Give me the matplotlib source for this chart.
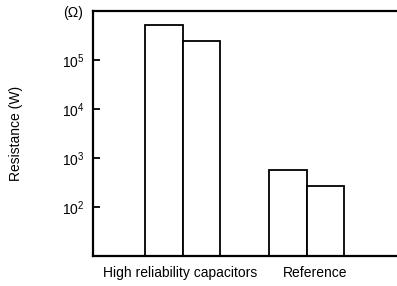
import matplotlib.pyplot as plt
import numpy as np

plt.rcParams['font.family'] = ['Liberation Sans', 'DejaVu Sans']
plt.rcParams['mathtext.fontset'] = 'custom'
plt.rcParams['mathtext.rm'] = 'Liberation Sans'

groups = ['High reliability capacitors', 'Reference']
bar_a = [5.2e5, 5.7e2]
bar_b = [2.45e5, 2.55e2]
y_ticks = [1e2, 1e3, 1e4, 1e5]
y_labels = ['$\\mathrm{10^2}$', '$\\mathrm{10^3}$', '$\\mathrm{10^4}$', '$\\mathrm{10^5}$']

fig = plt.figure(figsize=(3.97, 2.86), dpi=100)
ax = fig.add_axes([0.234, 0.105, 0.763, 0.857])

x = np.arange(len(groups))
w = 0.302
ax.bar(x - w / 2, bar_a, width=w, bottom=10, color='white', edgecolor='black', linewidth=1.3)
ax.bar(x + w / 2, bar_b, width=w, bottom=10, color='white', edgecolor='black', linewidth=1.3)

ax.set_yscale('log')
ax.set_ylim(10, 1e6)
ax.set_xlim(-0.726, 1.718)
ax.set_yticks(y_ticks)
ax.set_yticklabels(y_labels)
ax.minorticks_off()
ax.tick_params(axis='y', direction='in', length=5, width=1.3, labelsize=10, pad=6)
ax.set_xticks(x + np.array([-0.024, 0.065]))
ax.set_xticklabels(groups)
ax.tick_params(axis='x', length=0, labelsize=10, pad=7)

ax.spines['right'].set_visible(False)
for s in ['left', 'top', 'bottom']:
    ax.spines[s].set_linewidth(1.6)

ax.set_ylabel('Resistance (W)', fontsize=10, labelpad=28)
fig.text(0.185, 0.955, '(Ω)', fontsize=10, ha='center', va='center')

fig.savefig('out.png', dpi=100)
